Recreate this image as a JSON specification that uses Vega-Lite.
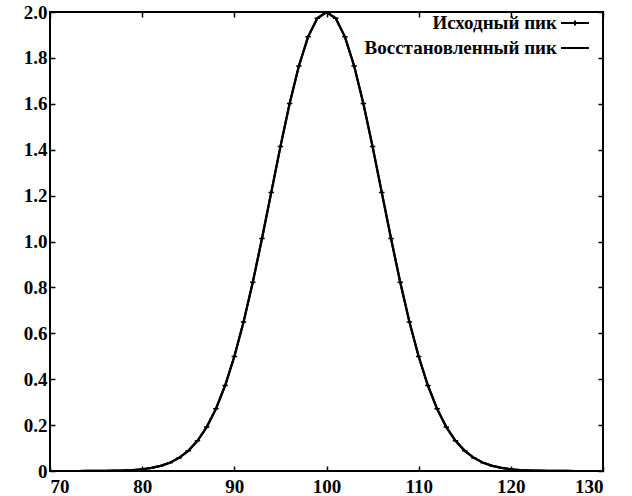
{
  "$schema": "https://vega.github.io/schema/vega-lite/v6.json",
  "width": 553,
  "height": 459,
  "autosize": {"type": "none"},
  "padding": {"left": 50, "top": 12, "right": 29, "bottom": 25},
  "background": "white",
  "config": {
    "view": {"stroke": "black", "strokeWidth": 2},
    "font": "Liberation Serif",
    "axis": {
      "grid": false,
      "domain": false,
      "tickColor": "black",
      "tickSize": -5,
      "tickWidth": 1.5,
      "labelFont": "Liberation Serif",
      "labelFontSize": 19,
      "labelFontWeight": "bold",
      "labelColor": "black",
      "title": null
    },
    "legend": {
      "orient": "none",
      "legendX": 510,
      "legendY": -4,
      "padding": 0,
      "labelAlign": "right",
      "labelOffset": -33,
      "labelFont": "Liberation Serif",
      "labelFontSize": 19,
      "labelFontWeight": "bold",
      "labelColor": "black",
      "labelLimit": 0,
      "symbolSize": 784,
      "symbolStrokeWidth": 2,
      "symbolStrokeColor": "black",
      "symbolFillColor": "transparent",
      "symbolOpacity": 1,
      "rowPadding": -10
    }
  },
  "data": {
    "values": [
      {"x": 71, "src": 0, "rec": 0},
      {"x": 72, "src": 0, "rec": 0},
      {"x": 73, "src": 0.0001, "rec": 0.0001},
      {"x": 74, "src": 0.0002, "rec": 0.0002},
      {"x": 75, "src": 0.0003, "rec": 0.0003},
      {"x": 76, "src": 0.0007, "rec": 0.0007},
      {"x": 77, "src": 0.0013, "rec": 0.0013},
      {"x": 78, "src": 0.0024, "rec": 0.0024},
      {"x": 79, "src": 0.0044, "rec": 0.0044},
      {"x": 80, "src": 0.0077, "rec": 0.0077},
      {"x": 81, "src": 0.0133, "rec": 0.0133},
      {"x": 82, "src": 0.0222, "rec": 0.0222},
      {"x": 83, "src": 0.0361, "rec": 0.0361},
      {"x": 84, "src": 0.0571, "rec": 0.0571},
      {"x": 85, "src": 0.0879, "rec": 0.0879},
      {"x": 86, "src": 0.1314, "rec": 0.1314},
      {"x": 87, "src": 0.1913, "rec": 0.1913},
      {"x": 88, "src": 0.2707, "rec": 0.2707},
      {"x": 89, "src": 0.3725, "rec": 0.3725},
      {"x": 90, "src": 0.4987, "rec": 0.4987},
      {"x": 91, "src": 0.6493, "rec": 0.6493},
      {"x": 92, "src": 0.8222, "rec": 0.8222},
      {"x": 93, "src": 1.0127, "rec": 1.0127},
      {"x": 94, "src": 1.2131, "rec": 1.2131},
      {"x": 95, "src": 1.4134, "rec": 1.4134},
      {"x": 96, "src": 1.6015, "rec": 1.6015},
      {"x": 97, "src": 1.765, "rec": 1.765},
      {"x": 98, "src": 1.8919, "rec": 1.8919},
      {"x": 99, "src": 1.9724, "rec": 1.9724},
      {"x": 100, "src": 2.0, "rec": 2.0},
      {"x": 101, "src": 1.9724, "rec": 1.9724},
      {"x": 102, "src": 1.8919, "rec": 1.8919},
      {"x": 103, "src": 1.765, "rec": 1.765},
      {"x": 104, "src": 1.6015, "rec": 1.6015},
      {"x": 105, "src": 1.4134, "rec": 1.4134},
      {"x": 106, "src": 1.2131, "rec": 1.2131},
      {"x": 107, "src": 1.0127, "rec": 1.0127},
      {"x": 108, "src": 0.8222, "rec": 0.8222},
      {"x": 109, "src": 0.6493, "rec": 0.6493},
      {"x": 110, "src": 0.4987, "rec": 0.4987},
      {"x": 111, "src": 0.3725, "rec": 0.3725},
      {"x": 112, "src": 0.2707, "rec": 0.2707},
      {"x": 113, "src": 0.1913, "rec": 0.1913},
      {"x": 114, "src": 0.1314, "rec": 0.1314},
      {"x": 115, "src": 0.0879, "rec": 0.0879},
      {"x": 116, "src": 0.0571, "rec": 0.0571},
      {"x": 117, "src": 0.0361, "rec": 0.0361},
      {"x": 118, "src": 0.0222, "rec": 0.0222},
      {"x": 119, "src": 0.0133, "rec": 0.0133},
      {"x": 120, "src": 0.0077, "rec": 0.0077},
      {"x": 121, "src": 0.0044, "rec": 0.0044},
      {"x": 122, "src": 0.0024, "rec": 0.0024},
      {"x": 123, "src": 0.0013, "rec": 0.0013},
      {"x": 124, "src": 0.0007, "rec": 0.0007},
      {"x": 125, "src": 0.0003, "rec": 0.0003},
      {"x": 126, "src": 0.0002, "rec": 0.0002},
      {"x": 127, "src": 0.0001, "rec": 0.0001},
      {"x": 128, "src": 0, "rec": 0},
      {"x": 129, "src": 0, "rec": 0}
    ]
  },
  "transform": [{"fold": ["src", "rec"], "as": ["key", "y"]}],
  "layer": [
    {
      "mark": {"type": "line", "color": "black", "strokeWidth": 2.2, "clip": true},
      "encoding": {
        "x": {"field": "x", "type": "quantitative", "scale": {"domain": [70, 130], "nice": false, "zero": false},
              "axis": {"values": [70, 80, 90, 100, 110, 120, 130], "labelPadding": 26, "labelBaseline": "alphabetic"}},
        "y": {"field": "y", "type": "quantitative", "scale": {"domain": [0, 2.0], "nice": false},
              "axis": {"values": [0, 0.2, 0.4, 0.6, 0.8, 1.0, 1.2, 1.4, 1.6, 1.8, 2.0], "labelPadding": 8,
                       "labelExpr": "datum.value == 0 ? '0' : format(datum.value, '.1f')"}},
        "detail": {"field": "key"}
      }
    },
    {
      "transform": [{"filter": "datum.key == 'src'"}],
      "mark": {"type": "point", "filled": false, "stroke": "black", "strokeWidth": 1.5, "size": 30, "opacity": 1},
      "encoding": {
        "x": {"field": "x", "type": "quantitative", "axis": null},
        "y": {"field": "y", "type": "quantitative", "axis": null},
        "shape": {
          "field": "key",
          "type": "nominal",
          "scale": {"domain": ["src", "rec"], "range": ["M-1,0L1,0M0,-0.18L0,0.18", "M-1,0L1,0"]},
          "legend": {"title": null, "labelExpr": "datum.label == 'src' ? 'Исходный пик' : 'Восстановленный пик'"}
        }
      }
    },
    {
      "mark": {"type": "line", "opacity": 0},
      "encoding": {
        "x": {"field": "x", "type": "quantitative",
              "axis": {"orient": "top", "labels": false, "values": [70, 80, 90, 100, 110, 120, 130]}},
        "y": {"field": "y", "type": "quantitative",
              "axis": {"orient": "right", "labels": false, "values": [0, 0.2, 0.4, 0.6, 0.8, 1.0, 1.2, 1.4, 1.6, 1.8, 2.0]}},
        "detail": {"field": "key"}
      }
    }
  ],
  "resolve": {"axis": {"x": "independent", "y": "independent"}}
}
